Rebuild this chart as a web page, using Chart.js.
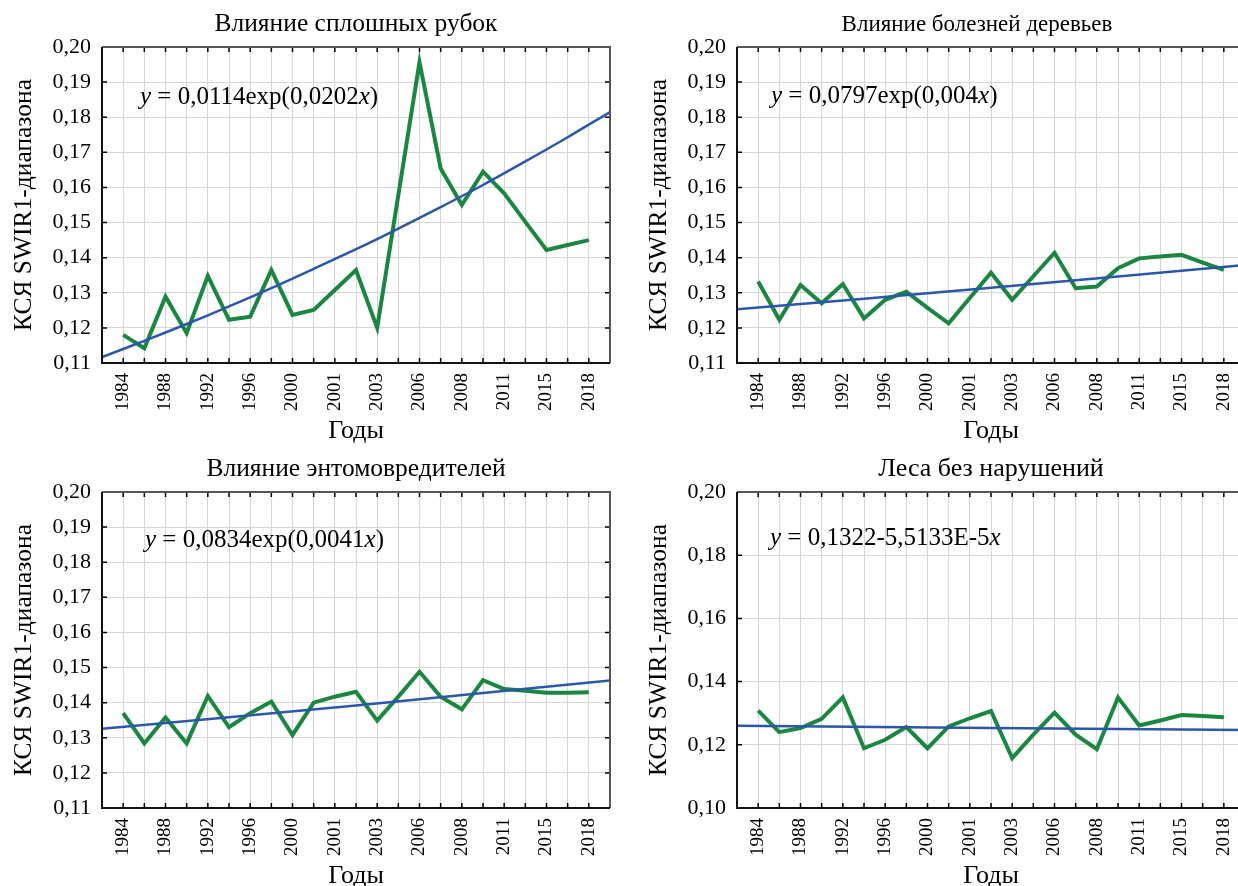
<!DOCTYPE html>
<html lang="ru">
<head>
<meta charset="utf-8">
<title>КСЯ SWIR1-диапазона</title>
<script src="https://cdn.jsdelivr.net/npm/chart.js@4.4.1/dist/chart.umd.min.js"></script>
<style>
  html, body { margin: 0; width: 1238px; height: 886px; overflow: hidden; background: #fff; }
  .panel { position: absolute; width: 620px; height: 450px; }
  .panel canvas { display: block; }
</style>
</head>
<body>
<div class="panel" style="left:0;top:0"><canvas id="clearcut" width="620" height="450"></canvas></div>
<div class="panel" style="left:635px;top:0"><canvas id="disease" width="620" height="450"></canvas></div>
<div class="panel" style="left:0;top:445px"><canvas id="insects" width="620" height="450"></canvas></div>
<div class="panel" style="left:635px;top:445px"><canvas id="intact" width="620" height="450"></canvas></div>
<script>
// подписи по оси X (каждая вторая точка)
const tickYears = ['1984', '1988', '1992', '1996', '2000', '2001', '2003', '2006', '2008', '2011', '2015', '2018'];

// КСЯ SWIR1 по 23 снимкам
const clearcut = [0.1180, 0.1142, 0.1289, 0.1185, 0.1348, 0.1223, 0.1232, 0.1365, 0.1237, 0.1251, 0.1308, 0.1365,
  0.1200, 0.1578, 0.1957, 0.1654, 0.1550, 0.1645, 0.1583, 0.1502, 0.1422, 0.1436, 0.1450];
const disease = [0.1332, 0.1223, 0.1322, 0.1270, 0.1325, 0.1227, 0.1280, 0.1303, 0.1257, 0.1213, 0.1285, 0.1357,
  0.1280, 0.1347, 0.1414, 0.1313, 0.1318, 0.1370, 0.1398, 0.1403, 0.1408, 0.1386, 0.1365];
const insects = [0.1370, 0.1284, 0.1358, 0.1284, 0.1419, 0.1330, 0.1370, 0.1403, 0.1308, 0.1400, 0.1417, 0.1431,
  0.1349, 0.1417, 0.1488, 0.1417, 0.1381, 0.1464, 0.1439, 0.1434, 0.1428, 0.1428, 0.1430];
const intact = [0.1308, 0.1240, 0.1253, 0.1282, 0.1350, 0.1189, 0.1216, 0.1256, 0.1189, 0.1258, 0.1284, 0.1307,
  0.1158, 0.1232, 0.1302, 0.1232, 0.1186, 0.1350, 0.1261, 0.1277, 0.1294, 0.1291, 0.1287];

// линии тренда
const clearcutTrendX = [-1, 1, 3, 5, 7, 9, 11, 13, 15, 17, 19, 21, 23];
const clearcutTrend = [0.1117, 0.1163, 0.1211, 0.1261, 0.1313, 0.1368, 0.1424, 0.1483, 0.1544, 0.1607, 0.1674, 0.1743, 0.1815];
const diseaseTrendX = [-1, 11, 23];
const diseaseTrend = [0.1253, 0.1314, 0.1379];
const insectsTrendX = [-1, 11, 23];
const insectsTrend = [0.1326, 0.1392, 0.1463];
const intactTrendX = [-1, 23];
const intactTrend = [0.1260, 0.1247];

const yTicksFine = [0.11, 0.12, 0.13, 0.14, 0.15, 0.16, 0.17, 0.18, 0.19, 0.20];
const yTicksCoarse = [0.10, 0.12, 0.14, 0.16, 0.18, 0.20];

const SERIF = "'Liberation Serif', 'Times New Roman', serif";
const GREEN = '#1a8741';
const BLUE = '#2b56ab';
const GRID = '#d5d5d5';

const frame = {
  id: 'frame',
  afterDraw(chart, args, opts) {
    const { ctx, chartArea: a, scales: { x, y } } = chart;
    ctx.save();
    ctx.strokeStyle = '#000';
    ctx.lineWidth = 1.5;
    ctx.beginPath();
    x.ticks.forEach((t) => {
      const px = x.getPixelForValue(t.value);
      ctx.moveTo(px, a.top); ctx.lineTo(px, a.top + 5);
      ctx.moveTo(px, a.bottom); ctx.lineTo(px, a.bottom - 5);
    });
    y.ticks.forEach((t) => {
      const py = y.getPixelForValue(t.value);
      ctx.moveTo(a.left, py); ctx.lineTo(a.left + 5, py);
      ctx.moveTo(a.right, py); ctx.lineTo(a.right - 5, py);
    });
    ctx.stroke();

    ctx.lineWidth = 2;
    ctx.strokeStyle = '#555';
    ctx.beginPath();
    ctx.moveTo(a.left, a.top); ctx.lineTo(a.right, a.top); ctx.lineTo(a.right, a.bottom);
    ctx.stroke();
    ctx.strokeStyle = '#111';
    ctx.beginPath();
    ctx.moveTo(a.left, a.top); ctx.lineTo(a.left, a.bottom); ctx.lineTo(a.right, a.bottom);
    ctx.stroke();

    ctx.fillStyle = '#000';
    ctx.textBaseline = 'alphabetic';
    ctx.textAlign = 'center';
    ctx.font = `${opts.titleSize || 25.5}px ${SERIF}`;
    ctx.fillText(opts.title, (a.left + a.right) / 2 + (opts.titleShift || 0), 31);

    ctx.textAlign = 'left';
    let cx = a.left + opts.eqX;
    const cy = a.top + opts.eqY;
    opts.equation.forEach((part) => {
      ctx.font = `${part.italic ? 'italic ' : ''}25px ${SERIF}`;
      ctx.fillText(part.text, cx, cy);
      cx += ctx.measureText(part.text).width;
    });
    ctx.restore();
  }
};

function points(xs, ys) {
  return ys.map((v, i) => ({ x: xs ? xs[i] : i, y: v }));
}

function makePanel(id, cfg) {
  new Chart(document.getElementById(id), {
    type: 'line',
    data: {
      datasets: [
        { data: points(cfg.trendX, cfg.trend), borderColor: BLUE, borderWidth: 2.5, pointRadius: 0, tension: 0.3 },
        { data: points(null, cfg.values), borderColor: GREEN, borderWidth: 4, pointRadius: 0, tension: 0 }
      ]
    },
    options: {
      responsive: false,
      animation: false,
      layout: { padding: { top: 47, right: 10, left: 0, bottom: 0 } },
      plugins: {
        legend: { display: false },
        tooltip: { enabled: false },
        frame: {
          title: cfg.title, titleShift: cfg.titleShift, titleSize: cfg.titleSize,
          equation: cfg.equation, eqX: cfg.eqX, eqY: cfg.eqY
        }
      },
      scales: {
        x: {
          type: 'linear',
          min: -1,
          max: 23,
          afterBuildTicks(s) { s.ticks = Array.from({ length: 25 }, (_, i) => ({ value: i - 1 })); },
          afterFit(s) { s.height = 87; s.paddingLeft = 0; s.paddingRight = 0; },
          grid: { color: GRID, drawTicks: false },
          border: { display: false },
          ticks: {
            autoSkip: false,
            minRotation: 90,
            maxRotation: 90,
            padding: 10,
            color: '#000',
            font: { family: SERIF, size: 19 },
            callback: (v) => (v >= 0 && v % 2 === 0 ? (tickYears[v / 2] || '') : '')
          },
          title: { display: true, text: 'Годы', color: '#000', font: { family: SERIF, size: 26 }, padding: { top: 0, bottom: 3 } }
        },
        y: {
          min: cfg.yTicks[0],
          max: cfg.yTicks[cfg.yTicks.length - 1],
          afterBuildTicks(s) { s.ticks = cfg.yTicks.map((v) => ({ value: v })); },
          afterFit(s) { s.width = 102; },
          grid: { color: GRID, drawTicks: false },
          border: { display: false },
          ticks: {
            padding: 11,
            color: '#000',
            font: { family: SERIF, size: 22 },
            callback: (v) => v.toFixed(2).replace('.', ',')
          },
          title: { display: true, text: 'КСЯ SWIR1-диапазона', color: '#000', font: { family: SERIF, size: 25.5 }, padding: { top: 9, bottom: 0 } }
        }
      }
    },
    plugins: [frame]
  });
}

makePanel('clearcut', {
  title: 'Влияние сплошных рубок', values: clearcut, trendX: clearcutTrendX, trend: clearcutTrend, yTicks: yTicksFine,
  eqX: 38, eqY: 57,
  equation: [{ text: 'y', italic: true }, { text: ' = 0,0114exp(0,0202' }, { text: 'x', italic: true }, { text: ')' }]
});
makePanel('disease', {
  title: 'Влияние болезней деревьев', values: disease, trendX: diseaseTrendX, trend: diseaseTrend, yTicks: yTicksFine,
  eqX: 34, eqY: 56, titleShift: -14, titleSize: 23,
  equation: [{ text: 'y', italic: true }, { text: ' = 0,0797exp(0,004' }, { text: 'x', italic: true }, { text: ')' }]
});
makePanel('insects', {
  title: 'Влияние энтомовредителей', values: insects, trendX: insectsTrendX, trend: insectsTrend, yTicks: yTicksFine,
  eqX: 43, eqY: 55,
  equation: [{ text: 'y', italic: true }, { text: ' = 0,0834exp(0,0041' }, { text: 'x', italic: true }, { text: ')' }]
});
makePanel('intact', {
  title: 'Леса без нарушений', values: intact, trendX: intactTrendX, trend: intactTrend, yTicks: yTicksCoarse,
  eqX: 33, eqY: 53, titleSize: 26,
  equation: [{ text: 'y', italic: true }, { text: ' = 0,1322-5,5133E-5' }, { text: 'x', italic: true }]
});
</script>
</body>
</html>
